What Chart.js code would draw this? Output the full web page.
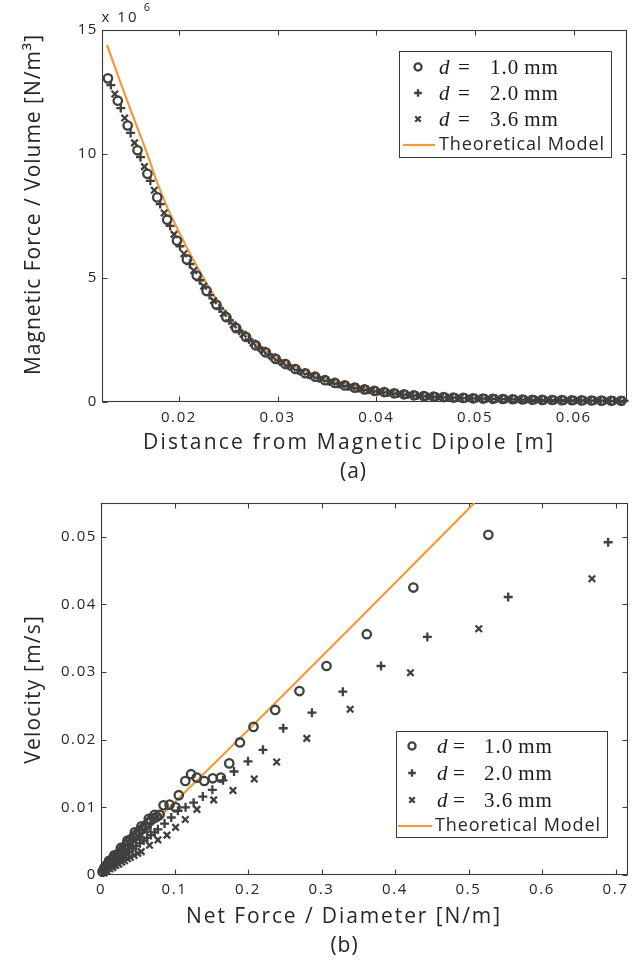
<!DOCTYPE html>
<html>
<head>
<meta charset="utf-8">
<script src="https://cdn.jsdelivr.net/npm/chart.js@4.4.1/dist/chart.umd.min.js"></script>
<style>
html,body{margin:0;padding:0;background:#fff;width:637px;height:962px;overflow:hidden;}
#wrapA{position:absolute;left:0;top:0;width:637px;height:490px;}
#wrapB{position:absolute;left:0;top:490px;width:637px;height:472px;}
canvas{display:block;}
</style>
</head>
<body>
<div id="wrapA"><canvas id="chartA"></canvas></div>
<div id="wrapB"><canvas id="chartB"></canvas></div>
<script>
// ---------------- DATA: panel (a) ----------------
// x: distance [m], y: magnetic force / volume [x 10^6 N/m^3]
const aDistD1 = [0.0128,0.0138,0.0148,0.0158,0.0168,0.0178,0.0188,0.0198,0.0208,0.0218,0.0228,0.0238,0.0248,0.0258,0.0268,0.0278,0.0288,0.0298,0.0308,0.0318,0.0328,0.0338,0.0348,0.0358,0.0368,0.0378,0.0388,0.0398,0.0408,0.0418,0.0428,0.0438,0.0448,0.0458,0.0468,0.0478,0.0488,0.0498,0.0508,0.0518,0.0528,0.0538,0.0548,0.0558,0.0568,0.0578,0.0588,0.0598,0.0608,0.0618,0.0628,0.0638,0.0648];
const aForceD1 = [13.05,12.15,11.15,10.15,9.20,8.25,7.35,6.50,5.75,5.10,4.48,3.92,3.42,2.98,2.62,2.28,2.00,1.74,1.53,1.33,1.16,1.02,0.88,0.77,0.67,0.58,0.51,0.45,0.40,0.35,0.31,0.27,0.24,0.22,0.20,0.18,0.165,0.15,0.14,0.13,0.12,0.11,0.10,0.09,0.085,0.08,0.075,0.07,0.065,0.06,0.055,0.05,0.048];
const aDistD2 = [0.0131,0.0141,0.0151,0.0161,0.0171,0.0181,0.0191,0.0201,0.0211,0.0221,0.0231,0.0241,0.0251,0.0261,0.0271,0.0281,0.0291,0.0301,0.0311,0.0321,0.0331,0.0341,0.0351,0.0361,0.0371,0.0381,0.0391,0.0401,0.0411,0.0421,0.0431,0.0441,0.0451,0.0461,0.0471,0.0481,0.0491,0.0501,0.0511,0.0521,0.0531,0.0541,0.0551,0.0561,0.0571,0.0581,0.0591,0.0601,0.0611,0.0621,0.0631,0.0641,0.0651];
const aForceD2 = [12.78,11.85,10.85,9.87,8.92,7.98,7.10,6.28,5.56,4.91,4.31,3.77,3.29,2.87,2.52,2.20,1.92,1.68,1.47,1.28,1.12,0.98,0.85,0.74,0.64,0.56,0.49,0.43,0.385,0.34,0.30,0.26,0.23,0.21,0.19,0.175,0.16,0.147,0.137,0.127,0.117,0.107,0.097,0.088,0.083,0.078,0.073,0.068,0.063,0.058,0.053,0.049,0.047];
const aDistD3 = [0.0135,0.0145,0.0155,0.0165,0.0175,0.0185,0.0195,0.0205,0.0215,0.0225,0.0235,0.0245,0.0255,0.0265,0.0275,0.0285,0.0295,0.0305,0.0315,0.0325,0.0335,0.0345,0.0355,0.0365,0.0375,0.0385,0.0395,0.0405,0.0415,0.0425,0.0435,0.0445,0.0455,0.0465,0.0475,0.0485,0.0495,0.0505,0.0515,0.0525,0.0535,0.0545,0.0555,0.0565,0.0575,0.0585,0.0595,0.0605,0.0615,0.0625,0.0635,0.0645];
const aForceD3 = [12.42,11.45,10.45,9.49,8.54,7.62,6.76,5.98,5.30,4.67,4.09,3.57,3.11,2.73,2.38,2.08,1.82,1.59,1.39,1.21,1.06,0.92,0.80,0.70,0.61,0.53,0.47,0.415,0.365,0.32,0.28,0.25,0.225,0.205,0.185,0.17,0.155,0.143,0.133,0.123,0.113,0.103,0.093,0.0865,0.0815,0.0765,0.0715,0.0665,0.0615,0.0565,0.0515,0.049];
const aModelDist = [0.0127,0.0137,0.0147,0.0157,0.0167,0.0177,0.0187,0.0197,0.0207,0.0217,0.0227,0.0237,0.0247,0.0257,0.0267,0.0277,0.0287,0.0297,0.0317,0.0337,0.0357,0.0377,0.0397,0.0417,0.0447,0.0477,0.0507,0.0547,0.0597,0.0650];
const aModelForce = [14.4,13.3,12.2,11.15,10.1,8.95,7.95,7.1,6.3,5.55,4.85,4.2,3.65,3.18,2.77,2.42,2.12,1.85,1.42,1.1,0.84,0.65,0.5,0.39,0.27,0.19,0.14,0.1,0.07,0.05];
const aXTicks = [0.02,0.03,0.04,0.05,0.06];
const aXTickLabels = ['0.02','0.03','0.04','0.05','0.06'];
const aYTicks = [0,5,10,15];
const aYTickLabels = ['0','5','10','15'];

// ---------------- DATA: panel (b) ----------------
// x: net force / diameter [N/m], y: velocity [m/s]
const bForceD1 = [0.002,0.004,0.005,0.006,0.008,0.009,0.010,0.011,0.012,0.014,0.016,0.018,0.019,0.020,0.022,0.025,0.027,0.028,0.030,0.031,0.034,0.036,0.037,0.040,0.042,0.044,0.046,0.048,0.050,0.052,0.055,0.056,0.060,0.062,0.064,0.065,0.068,0.072,0.073,0.076,0.0797,0.0851,0.0933,0.1015,0.1058,0.1147,0.1225,0.1303,0.1405,0.1521,0.1630,0.1745,0.1890,0.2075,0.2370,0.2700,0.3068,0.3616,0.4250,0.5270];
const bVelD1 = [0.0005,0.0009,0.0011,0.0012,0.0015,0.0012,0.0017,0.0021,0.0019,0.0022,0.0024,0.0029,0.0027,0.0024,0.0030,0.0033,0.0040,0.0036,0.0033,0.0040,0.0044,0.0051,0.0048,0.0052,0.0047,0.0056,0.0063,0.0060,0.0058,0.0064,0.0072,0.0068,0.0072,0.0069,0.0077,0.0083,0.0081,0.0084,0.0089,0.0086,0.0089,0.0103,0.0104,0.0100,0.0118,0.0139,0.0149,0.0144,0.0139,0.0143,0.0144,0.0165,0.0196,0.0219,0.0244,0.0272,0.0309,0.0356,0.0425,0.0503];
const bForceD2 = [0.003,0.006,0.009,0.010,0.012,0.015,0.018,0.020,0.022,0.026,0.030,0.032,0.034,0.038,0.043,0.048,0.053,0.058,0.063,0.068,0.073,0.0774,0.0865,0.0956,0.1047,0.1150,0.1260,0.1385,0.1515,0.1660,0.1810,0.2000,0.2204,0.2480,0.2870,0.3290,0.3810,0.4440,0.5540,0.6900];
const bVelD2 = [0.0004,0.0007,0.0010,0.0013,0.0013,0.0015,0.0018,0.0016,0.0021,0.0024,0.0028,0.0025,0.0031,0.0035,0.0039,0.0043,0.0047,0.0051,0.0055,0.0059,0.0063,0.00675,0.0076,0.0085,0.0095,0.0100,0.0107,0.0116,0.0126,0.0140,0.0153,0.0168,0.0185,0.0217,0.0240,0.0271,0.0309,0.0352,0.0411,0.0492];
const bForceD3 = [0.004,0.008,0.012,0.016,0.020,0.024,0.028,0.032,0.036,0.040,0.045,0.050,0.0548,0.0660,0.0774,0.0897,0.1015,0.1147,0.1305,0.1533,0.1796,0.2085,0.2390,0.2800,0.3390,0.4210,0.5140,0.6680];
const bVelD3 = [0.0003,0.0006,0.0009,0.0011,0.0014,0.0016,0.0019,0.0021,0.0024,0.0026,0.0029,0.0032,0.00345,0.0044,0.0052,0.0059,0.00705,0.0082,0.0097,0.0111,0.0125,0.0142,0.0167,0.0202,0.0245,0.0299,0.0364,0.0438];
const bModelForce = [0.082,0.200,0.350,0.508];
const bModelVel = [0.0088,0.0214,0.0377,0.0550];
const bXTicks = [0,0.1,0.2,0.3,0.4,0.5,0.6,0.7];
const bXTickLabels = ['0','0.1','0.2','0.3','0.4','0.5','0.6','0.7'];
const bYTicks = [0,0.01,0.02,0.03,0.04,0.05];
const bYTickLabels = ['0','0.01','0.02','0.03','0.04','0.05'];

// ---------------- labels ----------------
const legendDiameters = ['1.0','2.0','3.6'];
const legendUnit = 'mm';
const legendModel = 'Theoretical Model';
const aTitleX = 'Distance from Magnetic Dipole [m]';
const aTitleY = 'Magnetic Force / Volume [N/m\u00B3]';
const aCaption = '(a)';
const bTitleX = 'Net Force / Diameter [N/m]';
const bTitleY = 'Velocity [m/s]';
const bCaption = '(b)';

// ---------------- styles ----------------
const FONT = "'Open Sans', 'DejaVu Sans', sans-serif";
const SERIF = "'Liberation Serif', 'DejaVu Serif', serif";
const INK = '#262626';
const MARK = '#404040';
const AXIS = '#3a3a3a';
const ORANGE = '#F29A3A';
const markerStyles = [
  {pointStyle:'circle', radius:4.2, borderWidth:2.3},
  {pointStyle:'cross', radius:4.5, borderWidth:2.3},
  {pointStyle:'crossRot', radius:4.6, borderWidth:2.3}
];

const pts = (xs, ys) => xs.map((x, i) => ({x: x, y: ys[i]}));

function markerDataset(label, xs, ys, k) {
  return {
    label: label, data: pts(xs, ys), showLine: false, clip: false,
    pointStyle: markerStyles[k].pointStyle, pointRadius: markerStyles[k].radius,
    pointBorderWidth: markerStyles[k].borderWidth,
    pointBorderColor: MARK, pointBackgroundColor: 'rgba(0,0,0,0)',
    borderColor: MARK, backgroundColor: 'rgba(0,0,0,0)'
  };
}
function modelDataset(xs, ys, smooth) {
  return {
    label: legendModel, data: pts(xs, ys), showLine: true, pointRadius: 0,
    borderColor: ORANGE, borderWidth: 2.2, backgroundColor: ORANGE,
    cubicInterpolationMode: smooth ? 'monotone' : 'default', tension: 0
  };
}

// draw text centred on (cx, cy), stretched by letter spacing to a given width
function spacedText(ctx, text, cx, cy, font, width, rotate, extraSpacing) {
  ctx.save();
  ctx.font = font;
  ctx.letterSpacing = '0px';
  const w0 = ctx.measureText(text).width;
  const n = Array.from(text).length;
  let ls = extraSpacing || 0, w = w0 + ls * (n - 1);
  if (width && n > 1) { ls = (width - w0) / (n - 1); w = width; }
  ctx.letterSpacing = ls + 'px';
  ctx.translate(cx, cy);
  if (rotate) ctx.rotate(-Math.PI / 2);
  ctx.textAlign = 'left';
  ctx.textBaseline = 'middle';
  ctx.fillStyle = INK;
  ctx.fillText(text, -w / 2, 0);
  ctx.restore();
}

const framePlugin = {
  id: 'frame',
  beforeDraw(chart) { chart.ctx.letterSpacing = '1.6px'; },
  beforeDatasetsDraw(chart) {
    const ctx = chart.ctx, a = chart.chartArea, sx = chart.scales.x, sy = chart.scales.y;
    ctx.save();
    ctx.strokeStyle = AXIS; ctx.lineWidth = 1.1;
    const L = Math.round(a.left) + 0.5, R = Math.round(a.right) - 0.5, T = Math.round(a.top) + 0.5, B = Math.round(a.bottom) - 0.5;
    ctx.strokeRect(L, T, R - L, B - T);
    ctx.beginPath();
    sx.ticks.forEach(t => {
      const p = Math.round(sx.getPixelForValue(t.value)) + 0.5;
      ctx.moveTo(p, B); ctx.lineTo(p, B - 5);
      ctx.moveTo(p, T); ctx.lineTo(p, T + 5);
    });
    sy.ticks.forEach(t => {
      const p = Math.round(sy.getPixelForValue(t.value)) + 0.5;
      ctx.moveTo(L, p); ctx.lineTo(L + 5, p);
      ctx.moveTo(R, p); ctx.lineTo(R - 5, p);
    });
    ctx.stroke();
    ctx.restore();
  },
  afterDraw(chart) { chart.ctx.letterSpacing = '0px'; }
};

function makeLegendPlugin(box) {
  return {
    id: 'boxLegend',
    afterDatasetsDraw(chart) {
      const ctx = chart.ctx;
      ctx.save();
      ctx.letterSpacing = '0px';
      ctx.fillStyle = '#fff';
      ctx.fillRect(box.left, box.top, box.width, box.height);
      ctx.strokeStyle = AXIS; ctx.lineWidth = 1;
      ctx.strokeRect(box.left + 0.5, box.top + 0.5, box.width, box.height);
      ctx.textBaseline = 'middle';
      legendDiameters.forEach((dv, i) => {
        const y = box.rows[i];
        const ms = markerStyles[i];
        ctx.save();
        ctx.strokeStyle = MARK; ctx.fillStyle = 'rgba(0,0,0,0)'; ctx.lineWidth = 2.3;
        Chart.helpers.drawPoint(ctx, {pointStyle: ms.pointStyle, radius: ms.radius * 0.85, borderWidth: 2.3, rotation: 0}, box.left + box.markerX, y);
        ctx.restore();
        ctx.fillStyle = '#1a1a1a';
        ctx.textAlign = 'left';
        ctx.font = 'italic 21px ' + SERIF;
        ctx.fillText('d', box.left + box.dX, y + 1);
        ctx.font = '21px ' + SERIF;
        ctx.fillText('=', box.left + box.eqX, y + 1);
        ctx.letterSpacing = '1px';
        ctx.fillText(dv, box.left + box.numX, y + 1);
        const wv = ctx.measureText(dv).width;
        ctx.fillText(legendUnit, box.left + box.numX + wv + 5, y + 1);
        ctx.letterSpacing = '0px';
      });
      const ym = box.rows[3];
      ctx.strokeStyle = ORANGE; ctx.lineWidth = 2.2;
      ctx.beginPath();
      ctx.moveTo(box.left + box.lineX0, ym); ctx.lineTo(box.left + box.lineX1, ym);
      ctx.stroke();
      ctx.restore();
      spacedText(ctx, legendModel, box.left + box.textX + box.textW / 2, ym, '18px ' + FONT, box.textW, false);
    }
  };
}

function makeTitlePlugin(t) {
  return {
    id: 'axisTitles',
    afterDraw(chart) {
      const ctx = chart.ctx;
      const f = '21px ' + FONT;
      spacedText(ctx, t.x, t.xPos[0], t.xPos[1], f, t.xWidth, false);
      spacedText(ctx, t.cap, t.capPos[0], t.capPos[1], f, null, false, 1);
      spacedText(ctx, t.y, t.yPos[0], t.yPos[1], f, t.yWidth, true, 1.2);
      if (t.exp) {
        spacedText(ctx, 'x 10', t.exp[0] + 17, t.exp[1], '15px ' + FONT, 35, false);
        spacedText(ctx, '6', t.exp[0] + 45, t.exp[1] - 10, '11px ' + FONT, null, false);
      }
    }
  };
}

function scaleOpts(min, max, ticks, labels, fitSize, isX, pad) {
  return {
    type: 'linear', min: min, max: max,
    afterBuildTicks: s => { s.ticks = ticks.map(v => ({value: v})); },
    afterFit: s => { if (isX) s.height = fitSize; else s.width = fitSize; },
    grid: {display: false, drawTicks: false},
    border: {display: false},
    ticks: {
      autoSkip: false, maxRotation: 0, padding: pad, color: INK,
      font: {family: FONT, size: 15},
      callback: (v, i) => labels[i]
    },
    title: {display: false}
  };
}

function baseOptions(padding, scales) {
  return {
    responsive: true, maintainAspectRatio: false, animation: false, devicePixelRatio: 1,
    events: [],
    layout: {padding: padding},
    plugins: {legend: {display: false}, tooltip: {enabled: false}, title: {display: false}},
    scales: scales
  };
}

// ---------------- Chart (a) ----------------
new Chart(document.getElementById('chartA'), {
  type: 'scatter',
  data: {datasets: [
    markerDataset('d = 1.0 mm', aDistD1, aForceD1, 0),
    markerDataset('d = 2.0 mm', aDistD2, aForceD2, 1),
    markerDataset('d = 3.6 mm', aDistD3, aForceD3, 2),
    modelDataset(aModelDist, aModelForce, true)
  ]},
  options: baseOptions({left: 0, right: 10, top: 30, bottom: 0}, {
    x: scaleOpts(0.0122, 0.0654, aXTicks, aXTickLabels, 88, true, 7),
    y: scaleOpts(0, 15, aYTicks, aYTickLabels, 102, false, 4)
  }),
  plugins: [framePlugin,
    makeLegendPlugin({left: 399, top: 51, width: 212, height: 106, rows: [67, 93, 119, 145],
      markerX: 19, dX: 40, eqX: 59, numX: 91, lineX0: 4, lineX1: 36, textX: 40, textW: 165}),
    makeTitlePlugin({x: aTitleX, xPos: [348, 443], xWidth: 410, cap: aCaption, capPos: [353, 472],
      y: aTitleY, yPos: [34, 205], yWidth: 340, exp: [102, 18]})
  ]
});

// ---------------- Chart (b) ----------------
new Chart(document.getElementById('chartB'), {
  type: 'scatter',
  data: {datasets: [
    markerDataset('d = 1.0 mm', bForceD1, bVelD1, 0),
    markerDataset('d = 2.0 mm', bForceD2, bVelD2, 1),
    markerDataset('d = 3.6 mm', bForceD3, bVelD3, 2),
    modelDataset(bModelForce, bModelVel, false)
  ]},
  options: baseOptions({left: 0, right: 9, top: 13, bottom: 0}, {
    x: scaleOpts(0, 0.717, bXTicks, bXTickLabels, 87, true, 6),
    y: scaleOpts(0, 0.055, bYTicks, bYTickLabels, 101, false, 4)
  }),
  plugins: [framePlugin,
    makeLegendPlugin({left: 396, top: 241, width: 211, height: 106, rows: [256, 283, 310, 336],
      markerX: 16, dX: 41, eqX: 57, numX: 88, lineX0: 2, lineX1: 36, textX: 39, textW: 165}),
    makeTitlePlugin({x: bTitleX, xPos: [343, 427], xWidth: 314, cap: bCaption, capPos: [344, 456],
      y: bTitleY, yPos: [34, 200], yWidth: null, exp: null})
  ]
});
</script>
</body>
</html>
